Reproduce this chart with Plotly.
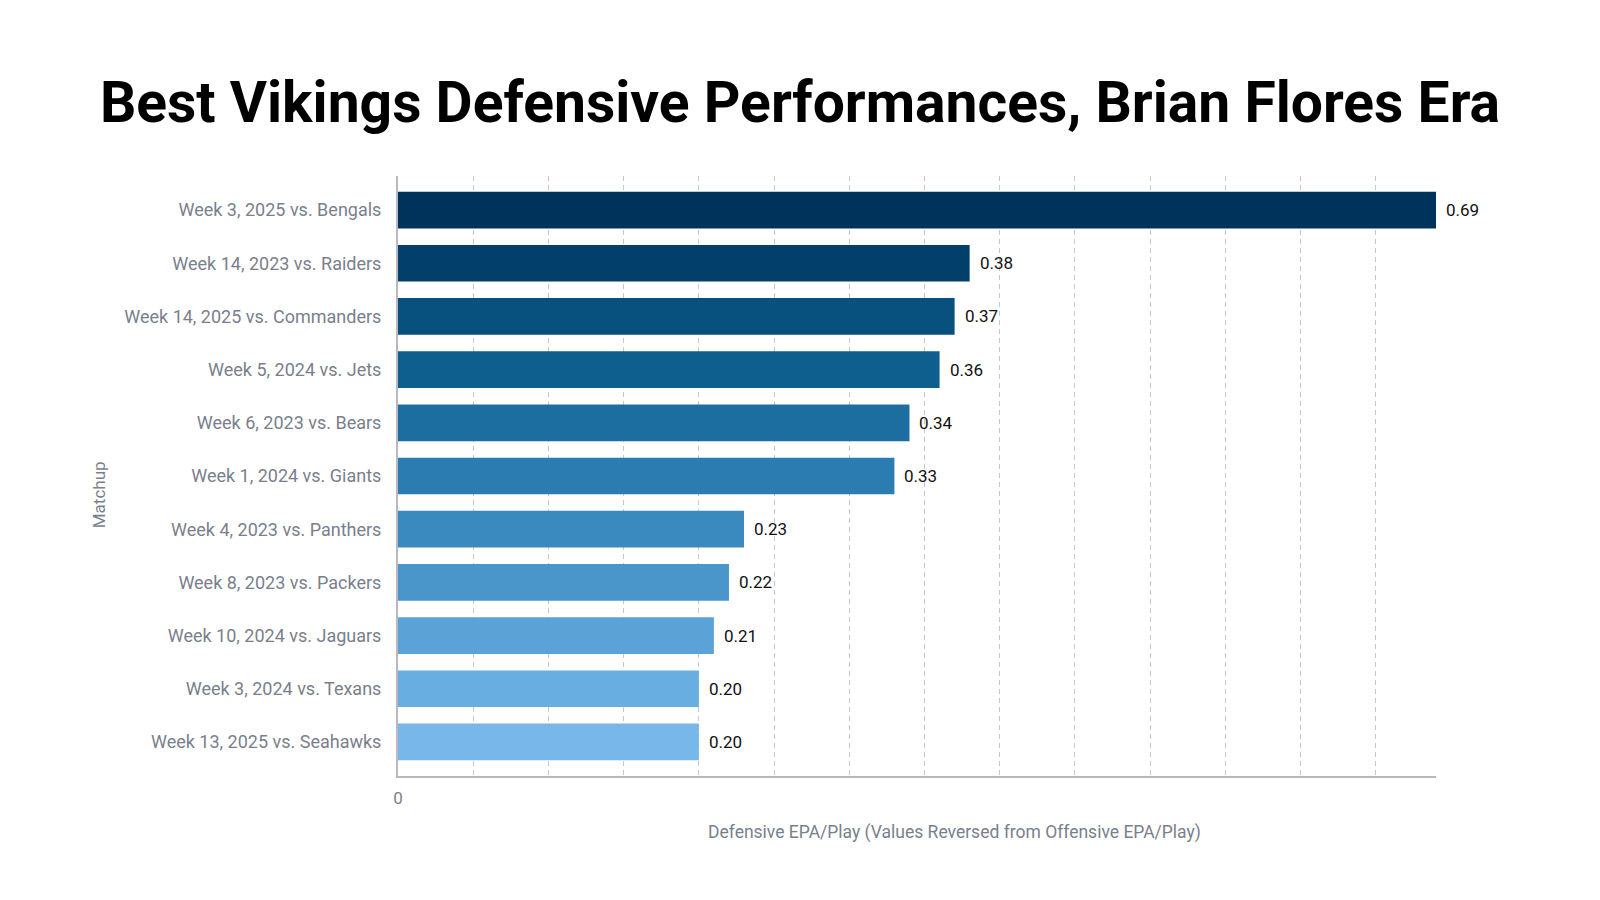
import plotly.graph_objects as go

matchups = [
    "Week 3, 2025 vs. Bengals",
    "Week 14, 2023 vs. Raiders",
    "Week 14, 2025 vs. Commanders",
    "Week 5, 2024 vs. Jets",
    "Week 6, 2023 vs. Bears",
    "Week 1, 2024 vs. Giants",
    "Week 4, 2023 vs. Panthers",
    "Week 8, 2023 vs. Packers",
    "Week 10, 2024 vs. Jaguars",
    "Week 3, 2024 vs. Texans",
    "Week 13, 2025 vs. Seahawks",
]
epa = [0.69, 0.38, 0.37, 0.36, 0.34, 0.33, 0.23, 0.22, 0.21, 0.20, 0.20]
colors = ["#00335C", "#033F6B", "#08507E", "#0E5E8E", "#1D6EA0", "#2B7DB1",
          "#3A8ABF", "#4A96CA", "#5BA3D6", "#68AEE0", "#78B7EA"]

grid_vals = [round(i * 0.05, 2) for i in range(14)]
grid_text = ["0"] + [""] * 13

GRAY = "#7a7f8c"

fig = go.Figure(go.Bar(
    x=epa, y=matchups, orientation="h",
    marker=dict(color=colors, line=dict(width=0)),
    width=0.69, hoverinfo="x+y",
))

for v, m in zip(epa, matchups):
    fig.add_annotation(
        x=v, y=m, text=f"{v:.2f}", showarrow=False,
        xanchor="left", yanchor="middle", xshift=8,
        font=dict(size=17, color="#111111", family="Roboto"),
    )

fig.update_layout(
    width=1600, height=900,
    paper_bgcolor="white", plot_bgcolor="white",
    margin=dict(l=390, r=172, t=168, b=132, autoexpand=False),
    title=dict(text="<b>Best Vikings Defensive Performances, Brian Flores Era</b>",
               x=0.495, xanchor="center", y=0.896, yanchor="middle",
               font=dict(size=57, color="#000000", family="Roboto")),
    font=dict(family="Roboto", color=GRAY),
    showlegend=False,
)
fig.update_xaxes(
    range=[0, 0.69], tickvals=grid_vals, ticktext=grid_text,
    showgrid=True, gridcolor="#c6c6cc", griddash="5px,4px", gridwidth=1,
    showline=True, linecolor="#b8b8be", linewidth=2,
    zeroline=False, ticks="outside", ticklen=6, tickcolor="white",
    tickfont=dict(size=17, color=GRAY),
    automargin=False,
)
fig.update_yaxes(
    categoryorder="array", categoryarray=matchups, autorange=False,
    range=[10.64, -0.64],
    showline=True, linecolor="#b8b8be", linewidth=2, showgrid=False,
    ticks="outside", ticklen=11, tickcolor="white",
    tickfont=dict(size=18, color=GRAY),
    automargin=False,
)
fig.add_annotation(
    text="Matchup", textangle=-90,
    xref="paper", yref="paper", x=-0.288, y=0.468, xanchor="center", yanchor="middle",
    showarrow=False, font=dict(size=17, color=GRAY, family="Roboto"),
)
fig.add_annotation(
    text="Defensive EPA/Play (Values Reversed from Offensive EPA/Play)",
    xref="paper", yref="paper", x=0.536, y=-0.094, xanchor="center", yanchor="middle",
    showarrow=False, font=dict(size=17.5, color=GRAY, family="Roboto"),
)

fig.write_html("out.html")
